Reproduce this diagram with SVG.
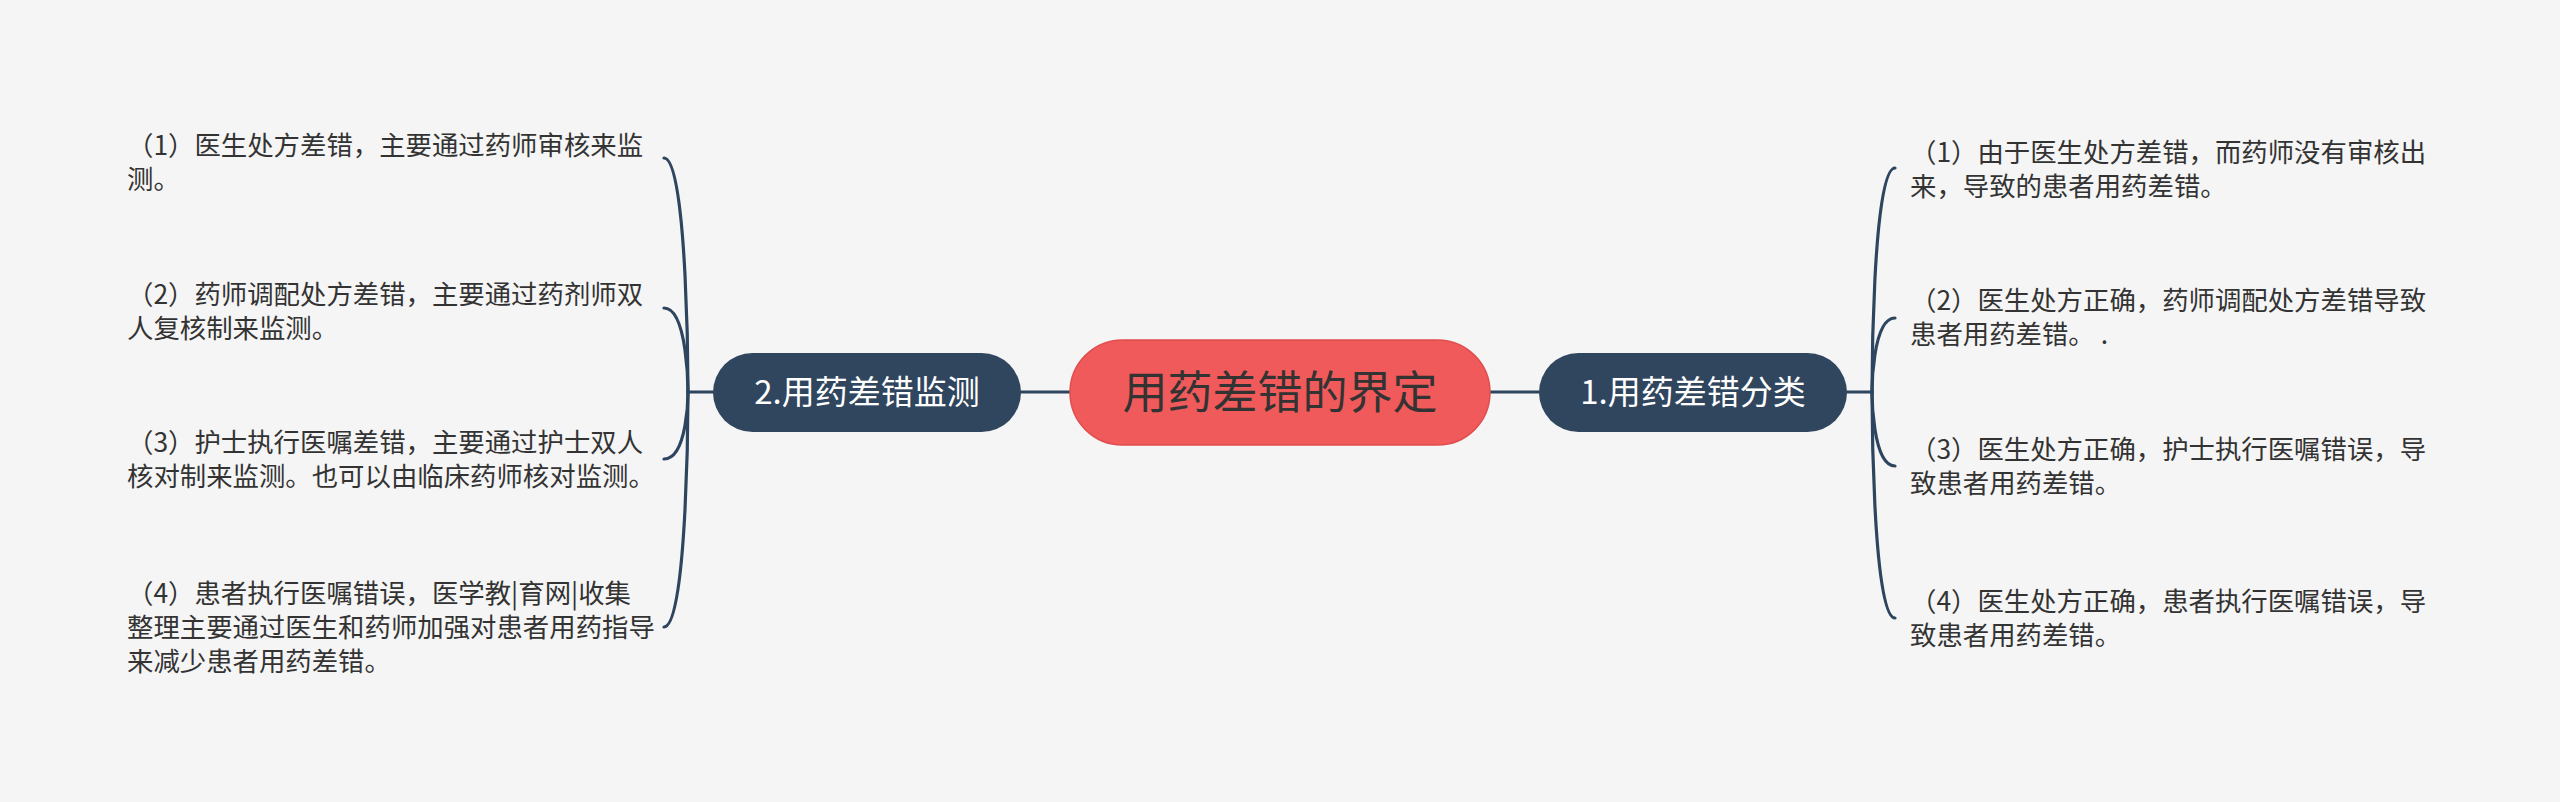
<svg xmlns="http://www.w3.org/2000/svg" width="2560" height="802" viewBox="0 0 2560 802">
<style>
.bg{fill:#F5F5F5}
.conn{fill:none;stroke:#2E4560;stroke-width:3.2;stroke-linecap:round}
.main{fill:#30465E}
.root{fill:#F05A5A;stroke:#E04E4E;stroke-width:1.5}
.t{font-family:"Noto Sans CJK SC","Noto Sans",sans-serif;fill:#333333;font-size:26.4px}
.mt{font-family:"Noto Sans CJK SC","Noto Sans",sans-serif;fill:#FFFFFF;font-size:33px;text-anchor:middle}
.rt{font-family:"Noto Sans CJK SC","Noto Sans",sans-serif;fill:#333333;font-size:45px;text-anchor:middle}
</style>
<rect class="bg" x="0" y="0" width="2560" height="802"/>
<g id="connectors">
<path class="conn" d="M1021 392 H1070"/>
<path class="conn" d="M1490 392 H1539"/>
<path class="conn" d="M713 392 H688"/>
<path class="conn" d="M1847 392 H1872"/>
<path class="conn" d="M688 392 C688 392 688 158 664 158"/>
<path class="conn" d="M688 392 C688 392 688 308 664 308"/>
<path class="conn" d="M688 392 C688 392 688 459 664 459"/>
<path class="conn" d="M688 392 C688 392 688 627 664 627"/>
<path class="conn" d="M1872 392 C1872 392 1872 168 1895 168"/>
<path class="conn" d="M1872 392 C1872 392 1872 318 1895 318"/>
<path class="conn" d="M1872 392 C1872 392 1872 466 1895 466"/>
<path class="conn" d="M1872 392 C1872 392 1872 618 1895 618"/>
</g>
<g id="root">
<rect class="root" x="1070" y="340" width="420" height="105" rx="52.5"/>
<text class="rt" x="1280" y="409">用药差错的界定</text>
</g>
<g id="branch-left">
<rect class="main" x="713" y="353" width="308" height="79" rx="39.5"/>
<text class="mt" x="867" y="404">2.用药差错监测</text>
</g>
<g id="branch-right">
<rect class="main" x="1539" y="353" width="308" height="79" rx="39.5"/>
<text class="mt" x="1693" y="404">1.用药差错分类</text>
</g>
<g id="left-1">
<text class="t" x="127" y="155">（1）医生处方差错，主要通过药师审核来监</text>
<text class="t" x="127" y="189">测。</text>
</g>
<g id="left-2">
<text class="t" x="127" y="304">（2）药师调配处方差错，主要通过药剂师双</text>
<text class="t" x="127" y="338">人复核制来监测。</text>
</g>
<g id="left-3">
<text class="t" x="127" y="452">（3）护士执行医嘱差错，主要通过护士双人</text>
<text class="t" x="127" y="486">核对制来监测。也可以由临床药师核对监测。</text>
</g>
<g id="left-4">
<text class="t" x="127" y="603">（4）患者执行医嘱错误，医学教|育网|收集</text>
<text class="t" x="127" y="637">整理主要通过医生和药师加强对患者用药指导</text>
<text class="t" x="127" y="671">来减少患者用药差错。</text>
</g>
<g id="right-1">
<text class="t" x="1910" y="162">（1）由于医生处方差错，而药师没有审核出</text>
<text class="t" x="1910" y="196">来，导致的患者用药差错。</text>
</g>
<g id="right-2">
<text class="t" x="1910" y="310">（2）医生处方正确，药师调配处方差错导致</text>
<text class="t" x="1910" y="344">患者用药差错。 .</text>
</g>
<g id="right-3">
<text class="t" x="1910" y="459">（3）医生处方正确，护士执行医嘱错误，导</text>
<text class="t" x="1910" y="493">致患者用药差错。</text>
</g>
<g id="right-4">
<text class="t" x="1910" y="611">（4）医生处方正确，患者执行医嘱错误，导</text>
<text class="t" x="1910" y="645">致患者用药差错。</text>
</g>
</svg>
